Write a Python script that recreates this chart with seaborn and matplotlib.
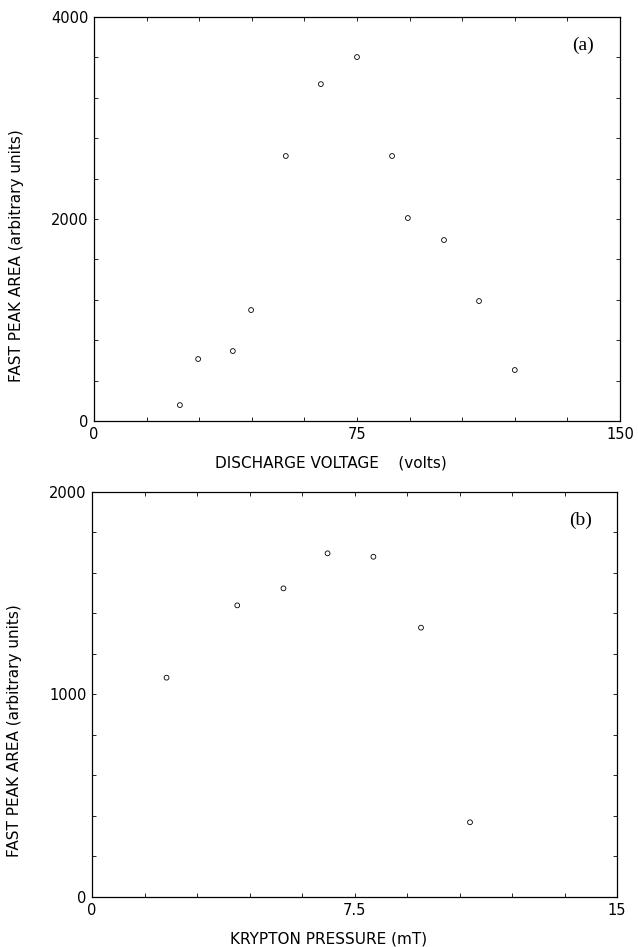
import numpy as np
import pandas as pd
import matplotlib.pyplot as plt
import seaborn as sns

# panel (a): fast peak area vs discharge voltage
voltage = [24.5, 29.7, 39.6, 44.8, 54.7, 64.7, 75.0, 85.0, 89.5, 99.8, 109.8, 120.0]
area_a = [158, 614, 693, 1099, 2624, 3336, 3604, 2624, 2010, 1792, 1188, 505]

# panel (b): fast peak area vs krypton pressure
pressure = [2.13, 4.15, 5.47, 6.73, 8.04, 9.40, 10.8]
area_b = [1083, 1440, 1524, 1697, 1680, 1330, 369]

sns.set_style("ticks")
plt.rcParams['font.family'] = ['DejaVu Sans']
plt.rcParams['text.color'] = 'black'
plt.rcParams['axes.labelcolor'] = 'black'
plt.rcParams['xtick.color'] = 'black'
plt.rcParams['ytick.color'] = 'black'

df_a = pd.DataFrame({'x': voltage, 'y': area_a})
df_b = pd.DataFrame({'x': pressure, 'y': area_b})

fig = plt.figure(figsize=(6.38, 9.47), dpi=100)
ax1 = fig.add_axes([0.1473, 0.5554, 0.8245, 0.4266])
ax2 = fig.add_axes([0.1442, 0.0528, 0.8229, 0.4277])


def style_axes(ax, xmax, ymax, xlabel, tag):
    ax.set_xlim(0, xmax)
    ax.set_ylim(0, ymax)
    xt = np.linspace(0, xmax, 11)
    yt = np.linspace(0, ymax, 11)
    ax.set_xticks(xt)
    ax.set_yticks(yt)
    xlab = ['' for _ in xt]
    ylab = ['' for _ in yt]
    for i in (0, 5, 10):
        xlab[i] = f"{xt[i]:g}"
        ylab[i] = f"{yt[i]:g}"
    ax.set_xticklabels(xlab, fontsize=10.5)
    ax.set_yticklabels(ylab, fontsize=10.5)
    ax.tick_params(direction='in', length=3, width=0.6, top=True, right=True, pad=4)
    for s in ax.spines.values():
        s.set_linewidth(0.9)
        s.set_color('black')
    ax.set_xlabel(xlabel, fontsize=11)
    ax.set_ylabel('FAST PEAK AREA (arbitrary units)', fontsize=11)
    # labels sit a bit off-centre in the original
    ax.xaxis.set_label_coords(0.45, -0.086)
    ax.yaxis.set_label_coords(-0.133, 0.41)
    ax.text(0.93, 0.93, tag, transform=ax.transAxes, fontsize=14,
            family='Liberation Serif', ha='center', va='center')


sns.scatterplot(data=df_a, x='x', y='y', ax=ax1, marker='o', s=12,
                facecolor='none', edgecolor='black', linewidth=0.6)
sns.scatterplot(data=df_b, x='x', y='y', ax=ax2, marker='o', s=12,
                facecolor='none', edgecolor='black', linewidth=0.6)

style_axes(ax1, 150, 4000, 'DISCHARGE VOLTAGE    (volts)', '(a)')
style_axes(ax2, 15, 2000, 'KRYPTON PRESSURE (mT)', '(b)')

fig.savefig('out.png', dpi=100)
